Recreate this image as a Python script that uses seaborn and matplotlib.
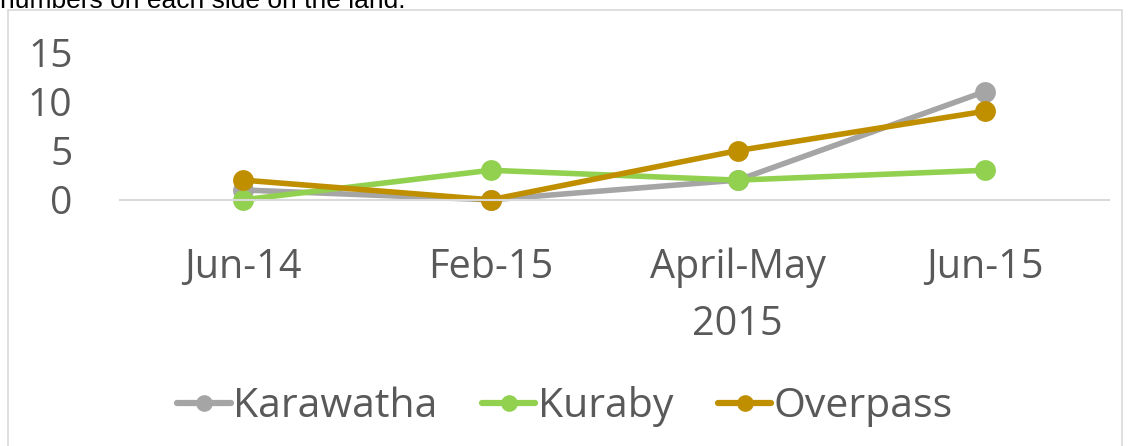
import pandas as pd
import matplotlib.pyplot as plt
import seaborn as sns
from matplotlib.patches import Rectangle

periods = ["Jun-14", "Feb-15", "April-May\n2015", "Jun-15"]
karawatha = [1, 0, 2, 11]
kuraby = [0, 3, 2, 3]
overpass = [2, 0, 5, 9]
series_names = ["Karawatha", "Kuraby", "Overpass"]
y_ticks = [0, 5, 10, 15]

colors = {"Karawatha": "#A5A5A5", "Kuraby": "#92D050", "Overpass": "#BF8F00"}

df = pd.DataFrame({
    "period": periods * 3,
    "count": karawatha + kuraby + overpass,
    "site": [s for s in series_names for _ in periods],
})

sns.set_style("white")
plt.rcParams["font.family"] = ["Open Sans", "DejaVu Sans"]
text_color = "#595959"

fig = plt.figure(figsize=(11.3, 4.46), dpi=100)
ax = fig.add_axes([0.106, 0.552, 0.875, 0.331])

sns.lineplot(data=df, x="period", y="count", hue="site", palette=colors,
             marker="o", markersize=15, markeredgewidth=0, linewidth=4,
             sort=False, ax=ax, clip_on=False)

ax.set_xlim(-0.5, 3.5)
ax.set_ylim(0, 15)
ax.set_yticks(y_ticks)
ax.set_xlabel("")
ax.set_ylabel("")
for s in ["top", "right", "left"]:
    ax.spines[s].set_visible(False)
ax.spines["bottom"].set_color("#D9D9D9")
ax.spines["bottom"].set_linewidth(1.5)
ax.tick_params(axis="y", labelsize=28, labelcolor=text_color, pad=34, length=0)
ax.tick_params(axis="x", labelsize=28.5, labelcolor=text_color, pad=34, length=0)
for lbl in ax.get_xticklabels():
    lbl.set_linespacing(1.55)

leg = ax.legend(loc="center", bbox_to_anchor=(0.5, 0.088), bbox_transform=fig.transFigure,
                ncol=3, frameon=False, fontsize=29.5, handlelength=1.3,
                handletextpad=0.05, columnspacing=1.1, labelcolor=text_color)
for h in leg.legend_handles:
    h.set_markersize(12)
    h.set_linewidth(4.5)

# outer chart frame
fig.patches.append(Rectangle((8 / 1130, -0.01), 1114 / 1130, 1 - 10 / 446 + 0.01,
                             transform=fig.transFigure, fill=False,
                             edgecolor="#D9D9D9", linewidth=1.2))

# surrounding document text, cut off at the top as in the source page
fig.text(0.0, 0.983, "numbers on each side on the land.", fontsize=19,
         family=["Liberation Sans"], color="black", va="baseline")

fig.savefig("out.png", dpi=100)
